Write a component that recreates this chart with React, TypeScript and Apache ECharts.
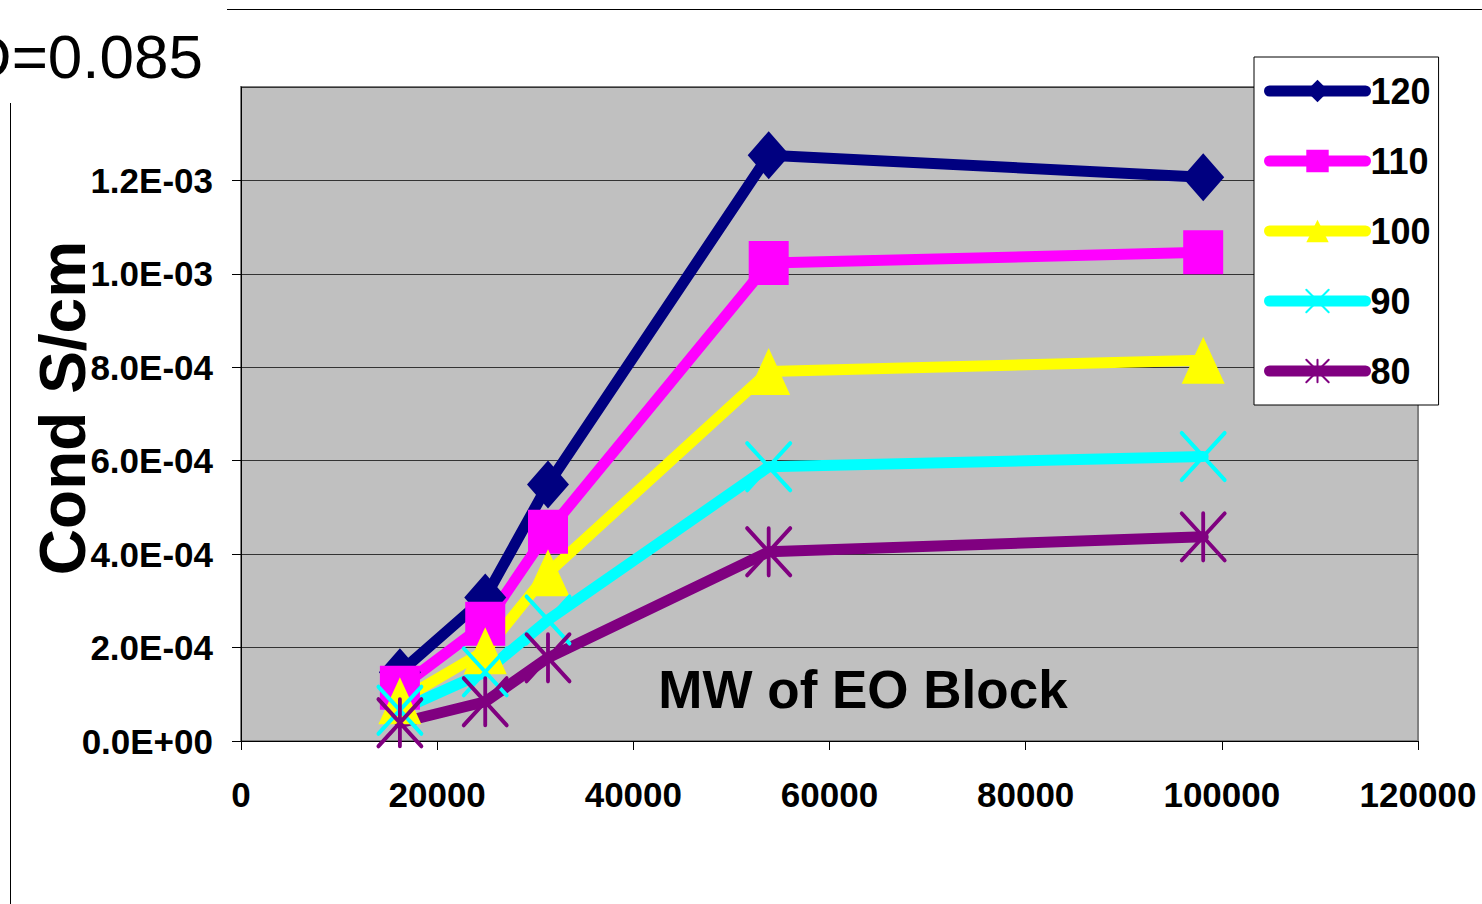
import React, { useEffect, useRef } from "react";
import * as echarts from "echarts";

const mwValues = [16200, 24900, 31300, 53800, 98100];
const seriesNames = ["120", "110", "100", "90", "80"];
const cond120 = [1.47e-4, 3.07e-4, 5.49e-4, 1.254e-3, 1.207e-3];
const cond110 = [1.14e-4, 2.51e-4, 4.48e-4, 1.023e-3, 1.046e-3];
const cond100 = [0.86e-4, 1.93e-4, 3.6e-4, 7.91e-4, 8.15e-4];
const cond90 = [0.66e-4, 1.48e-4, 2.59e-4, 5.87e-4, 6.09e-4];
const cond80 = [0.39e-4, 0.84e-4, 1.78e-4, 4.05e-4, 4.37e-4];
const seriesColors = ["#000080", "#FF00FF", "#FFFF00", "#00FFFF", "#800080"];
const yTitle = "Cond S/cm";
const xTitle = "MW of EO Block";
const cornerNote = "D=0.085";

const FONT = '"Liberation Sans", Arial, Helvetica, sans-serif';

function sci(v: number): string {
  if (Math.abs(v) < 1e-15) return "0.0E+00";
  const e = Math.floor(Math.log10(Math.abs(v)) + 1e-9);
  const m = v / Math.pow(10, e);
  return m.toFixed(1) + "E" + (e < 0 ? "-" : "+") + String(Math.abs(e)).padStart(2, "0");
}

export default function App() {
  const ref = useRef<HTMLDivElement>(null);
  useEffect(() => {
    if (!ref.current) return;
    const chart = echarts.init(ref.current, null, { renderer: "svg" });
    const all = [cond120, cond110, cond100, cond90, cond80];
    const symbols = [
      "diamond",
      "rect",
      "triangle",
      "path://M0 0L10 10M10 0L0 10",
      "path://M0 0L10 10M10 0L0 10M5 0L5 10",
    ];
    const sizes = [
      [42, 48],
      [40, 44],
      [43, 47],
      [43, 47],
      [43, 47],
    ];
    const series = all.map((vals, i) => ({
      name: seriesNames[i],
      type: "line",
      data: mwValues.map((x, j) => [x, vals[j]]),
      symbol: symbols[i],
      symbolSize: sizes[i],
      showAllSymbol: true,
      lineStyle: { width: 11, color: seriesColors[i], cap: "round", join: "round" },
      itemStyle:
        i >= 3
          ? { color: seriesColors[i], borderColor: seriesColors[i], borderWidth: 4, borderCap: "round" }
          : { color: seriesColors[i], borderWidth: 0 },
      emphasis: { disabled: true },
    }));
    chart.setOption({
      animation: false,
      backgroundColor: "#FFFFFF",
      grid: {
        left: 241,
        right: 64,
        top: 87,
        bottom: 163,
        show: true,
        backgroundColor: "#C0C0C0",
        borderColor: "#808080",
        borderWidth: 2,
      },
      legend: {
        orient: "vertical",
        left: 1254,
        top: 57,
        padding: [16, 8, 16, 10],
        itemGap: 34,
        itemWidth: 96,
        itemHeight: 28,
        backgroundColor: "#FFFFFF",
        borderColor: "#000000",
        borderWidth: 1,
        borderRadius: 0,
        data: seriesNames,
        lineStyle: { width: 11, cap: "round" },
        textStyle: { fontSize: 36, fontWeight: "bold", color: "#000", fontFamily: FONT },
      },
      xAxis: {
        type: "value",
        min: 0,
        max: 120000,
        interval: 20000,
        axisLine: { show: true, onZero: false, lineStyle: { color: "#000", width: 1 } },
        axisTick: { show: true, length: 9, lineStyle: { color: "#000" } },
        axisLabel: {
          fontSize: 35,
          fontWeight: "bold",
          color: "#000",
          fontFamily: FONT,
          margin: 36,
          hideOverlap: false,
          showMinLabel: true,
          showMaxLabel: true,
          formatter: (v: number) => String(Math.round(v)),
        },
        splitLine: { show: false },
      },
      yAxis: {
        type: "value",
        min: 0,
        max: 0.0014,
        interval: 0.0002,
        axisLine: { show: true, onZero: false, lineStyle: { color: "#000", width: 1 } },
        axisTick: { show: true, length: 9, lineStyle: { color: "#000" } },
        axisLabel: {
          fontSize: 35,
          fontWeight: "bold",
          color: "#000",
          fontFamily: FONT,
          margin: 28,
          showMaxLabel: false,
          formatter: (v: number) => sci(v),
        },
        splitLine: { show: true, lineStyle: { color: "#333333", width: 1 } },
      },
      graphic: [
        {
          type: "line",
          shape: { x1: 227, y1: 9.5, x2: 1482, y2: 9.5 },
          style: { stroke: "#000", lineWidth: 1 },
        },
        {
          type: "line",
          shape: { x1: 10.5, y1: 103, x2: 10.5, y2: 904 },
          style: { stroke: "#000", lineWidth: 1 },
        },
        {
          type: "text",
          x: 203,
          y: 56,
          style: {
            text: cornerNote,
            fontSize: 62,
            fontFamily: FONT,
            fill: "#000",
            align: "right",
            verticalAlign: "middle",
          },
        },
        {
          type: "text",
          x: 63,
          y: 408,
          rotation: Math.PI / 2,
          style: {
            text: yTitle,
            fontSize: 64,
            fontWeight: "bold",
            fontFamily: FONT,
            fill: "#000",
            align: "center",
            verticalAlign: "middle",
          },
        },
        {
          type: "text",
          x: 863,
          y: 689,
          z: 10,
          style: {
            text: xTitle,
            fontSize: 53,
            fontWeight: "bold",
            fontFamily: FONT,
            fill: "#000",
            align: "center",
            verticalAlign: "middle",
          },
        },
      ],
      series,
    });
    return () => chart.dispose();
  }, []);
  return (
    <div
      ref={ref}
      style={{ position: "fixed", left: 0, top: 0, width: 1482, height: 904 }}
    />
  );
}
